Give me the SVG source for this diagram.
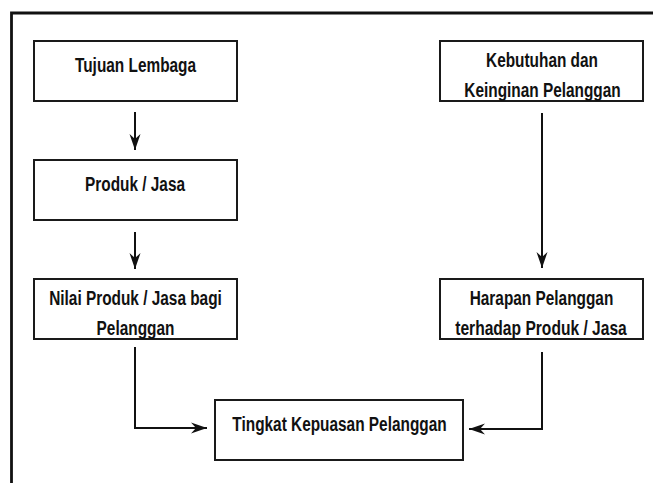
<svg xmlns="http://www.w3.org/2000/svg" width="653" height="483" viewBox="0 0 653 483">
  <style>
    .box { fill: #ffffff; stroke: #1a1a1a; stroke-width: 2; }
    .lbl { font-family: "Liberation Sans", Arial, sans-serif; font-size: 20px; font-weight: bold; fill: #111; text-anchor: middle; }
    .con { fill: none; stroke: #111; stroke-width: 2; }
  </style>
  <defs>
    <marker id="ah" markerUnits="userSpaceOnUse" markerWidth="18" markerHeight="14" refX="16" refY="7" orient="auto">
      <path d="M0,1.5 L16,7 L0,12.5 L5,7 Z" fill="#111"/>
    </marker>
  </defs>
  <rect width="653" height="483" fill="#ffffff"/>
  <path d="M11.5,483 V13 H653" fill="none" stroke="#111" stroke-width="2.8"/>

  <g id="connectors">
    <path class="con" d="M135,112 V150" marker-end="url(#ah)"/>
    <path class="con" d="M135,232 V269" marker-end="url(#ah)"/>
    <path class="con" d="M542,113 V268" marker-end="url(#ah)"/>
    <path class="con" d="M135,347 V428 H207" marker-end="url(#ah)"/>
    <path class="con" d="M542,352 V429 H469" marker-end="url(#ah)"/>
  </g>

  <g id="tujuan">
    <rect class="box" x="34" y="41" width="203" height="60"/>
    <text class="lbl" transform="translate(135.5,72) scale(0.77,1)">Tujuan Lembaga</text>
  </g>
  <g id="produk">
    <rect class="box" x="34" y="160" width="203" height="60"/>
    <text class="lbl" transform="translate(135,191) scale(0.77,1)">Produk / Jasa</text>
  </g>
  <g id="nilai">
    <rect class="box" x="34" y="279" width="203" height="60"/>
    <text class="lbl" transform="translate(135.5,305) scale(0.77,1)">Nilai Produk / Jasa bagi</text>
    <text class="lbl" transform="translate(135.5,335) scale(0.77,1)">Pelanggan</text>
  </g>
  <g id="kebutuhan">
    <rect class="box" x="440" y="41" width="203" height="60"/>
    <text class="lbl" transform="translate(542,67) scale(0.77,1)">Kebutuhan dan</text>
    <text class="lbl" transform="translate(542.5,97) scale(0.77,1)">Keinginan Pelanggan</text>
  </g>
  <g id="harapan">
    <rect class="box" x="440" y="279" width="203" height="60"/>
    <text class="lbl" transform="translate(541.5,305) scale(0.77,1)">Harapan Pelanggan</text>
    <text class="lbl" transform="translate(541,335) scale(0.78,1)">terhadap Produk / Jasa</text>
  </g>
  <g id="tingkat">
    <rect class="box" x="215" y="400" width="248" height="60"/>
    <text class="lbl" transform="translate(339.5,431) scale(0.77,1)">Tingkat Kepuasan Pelanggan</text>
  </g>
</svg>
